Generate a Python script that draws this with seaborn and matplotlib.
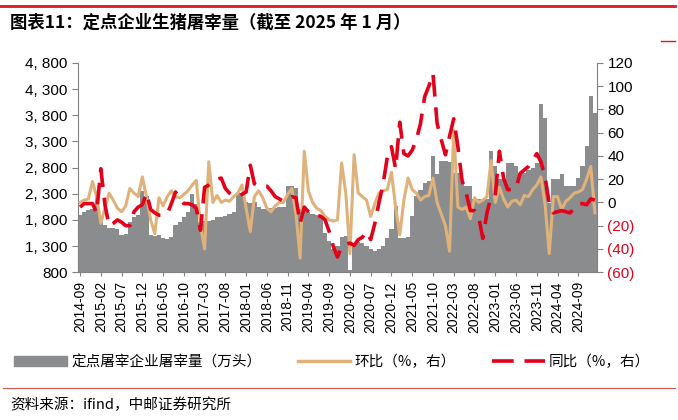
import matplotlib
matplotlib.use("Agg")
import matplotlib.pyplot as plt
import seaborn as sns
import pandas as pd
import numpy as np
from matplotlib.lines import Line2D
from matplotlib.patches import Patch
from matplotlib.ticker import FuncFormatter, MultipleLocator, FixedLocator

plt.rcParams["font.family"] = ["Liberation Sans", "Noto Sans CJK SC"]

months = [str(p) for p in pd.period_range("2014-09", "2025-01", freq="M")]
left_ticks = [800, 1300, 1800, 2300, 2800, 3300, 3800, 4300, 4800]

slaughter = [1900,1950,1980,2000,2220,1750,1700,1650,1640,1620,1520,1530,1750,1850,1900,2350,2250,1520,1500,1520,
             1450,1430,1480,1700,1750,1850,1950,2290,2100,1750,1780,1780,1800,1850,1860,1880,1920,1950,2320,2320,
             2150,2130,2150,2050,2000,2000,2020,2030,2050,2050,2450,2450,2400,2000,2000,1950,1920,1900,1880,1550,
             1400,1250,1300,1480,1500,850,1350,1380,1350,1300,1250,1200,1250,1300,1450,1620,2060,1460,1450,1480,
             1870,2250,2380,2510,2540,3020,2670,2925,2925,2900,2700,2700,2540,2450,2450,2190,2190,2190,2200,3120,
             2830,2580,2580,2890,2890,2830,2700,2700,2760,2800,2890,4010,3750,2130,2580,2580,2670,2450,2450,2450,
             2600,2830,3210,4170,3850]

mom = [0,2,3,18,5,-18,-5,8,2,-5,-8,-3,12,8,5,22,5,-15,-27,4,
       -3,5,10,5,4,7,10,15,19,-20,-40,35,0,6,0,2,1,5,8,15,
       -5,-25,5,10,4,-5,-8,-3,0,0,7,12,-10,-48,44,10,0,-5,-7,-12,
       -15,-16,-15,34,8,-44,41,8,5,2,-12,-1,8,10,11,26,-4,-28,2,21,
       11,8,2,5,6,21,0,-10,-20,-42,62,-4,-6,-4,-14,4,0,2,5,36,
       0,13,3,-4,1,2,-2,6,5,11,15,22,-2,-44,5,5,-6,1,4,8,
       9,11,20,31,-9]

yoy = [-4,-1,-1,-1,-9,29,-2,-20,-18,-15,-17,-20,-20,-8,-4,-2,8,-6,-9,-11,
       -11,-10,-1,9,3,-1,-1,-2,-5,-24,13,15,18,20,21,12,8,6,5,7,
       9,32,16,14,14,14,10,5,3,1,3,5,4,-18,-4,-8,-11,-11,-12,-15,
       -25,-38,-47,-38,-36,-35,-37,-32,-30,-25,-32,-18,0,16,39,48,29,69,42,40,
       45,54,68,91,100,111,68,54,41,57,72,48,19,8,-7,-7,-12,-31,-9,5,
       6,44,21,11,11,12,25,28,31,36,42,35,22,-1,-9,-8,-7,-8,-9,-5,
       -1,-1,-2,3,2]

df = pd.DataFrame({"month": months, "slaughter": slaughter, "mom": mom, "yoy": yoy,
                   "pos": np.arange(len(months))})

fig = plt.figure(figsize=(6.78, 4.2), dpi=100)
ax = fig.add_axes([0.115, 0.352, 0.7655, 0.498])
sns.barplot(data=df, x="month", y="slaughter", color="#8a8c8e", width=1.0,
            saturation=1, ax=ax, edgecolor="none")
ax.set_ylim(800, 4800)
ax.yaxis.set_major_locator(FixedLocator(left_ticks))
ax.yaxis.set_major_formatter(FuncFormatter(lambda v, p: f"{int(v):,}".replace(",", ", ")))
ax.set_xlim(-0.5, len(months) - 0.5)
ticks = list(range(0, len(months), 5))
ax.set_xticks(ticks)
ax.set_xticklabels([months[i] for i in ticks], rotation=90, fontsize=10)
ax.set_xlabel(""); ax.set_ylabel("")
for s in ["top", "right"]:
    ax.spines[s].set_visible(False)
ax.spines["left"].set_color("#808080")
ax.spines["bottom"].set_color("#808080")
ax.tick_params(axis="y", labelsize=11, length=4, color="#808080")
ax.tick_params(axis="x", length=3, color="#808080")

ax2 = ax.twinx()
sns.lineplot(data=df, x="pos", y="mom", color="#deb27a", linewidth=2.2, ax=ax2)
sns.lineplot(data=df, x="pos", y="yoy", color="#e3001b", linewidth=2.6, ax=ax2)
ax2.lines[1].set_dashes([6, 3])
ax2.set_ylim(-60, 120)
ax2.yaxis.set_major_locator(MultipleLocator(20))
ax2.yaxis.set_major_formatter(FuncFormatter(lambda v, p: f"({int(-v)})" if v < 0 else f"{int(v)}"))
ax2.set_xlim(-0.5, len(months) - 0.5)
ax2.set_xlabel(""); ax2.set_ylabel("")
for s in ["top", "left", "bottom"]:
    ax2.spines[s].set_visible(False)
ax2.spines["right"].set_color("#808080")
ax2.tick_params(axis="y", labelsize=11, length=4, color="#808080")
for lbl, v in zip(ax2.get_yticklabels(), ax2.get_yticks()):
    if v < 0:
        lbl.set_color("#e3001b")

handles = [Patch(color="#8a8c8e"),
           Line2D([], [], color="#deb27a", linewidth=2.5),
           Line2D([], [], color="#e3001b", linewidth=2.6, dashes=[6, 3])]
fig.legend(handles, ["定点屠宰企业屠宰量（万头）", "环比（%，右）", "同比（%，右）"],
           loc="center", bbox_to_anchor=(0.49, 0.138), ncol=3, frameon=False,
           prop={"family": "Noto Sans CJK SC", "size": 10.5}, handlelength=3.6,
           columnspacing=2.5, handletextpad=0.3)

fig.text(0.015, 0.945, "图表11：定点企业生猪屠宰量（截至 2025 年 1 月）", fontsize=12.5,
         fontweight="bold", va="center", family="Noto Sans CJK SC")
fig.add_artist(Line2D([0.0, 0.995], [0.986, 0.986], color="#d71a21", linewidth=2))
fig.add_artist(Line2D([0.975, 0.995], [0.902, 0.902], color="#d71a21", linewidth=1))
fig.add_artist(Line2D([0.005, 0.995], [0.077, 0.077], color="#d9534f", linewidth=0.8))
fig.text(0.015, 0.035, "资料来源：ifind，中邮证券研究所", fontsize=10.5, va="center",
         family="Noto Sans CJK SC")

fig.savefig("out.png", dpi=100)
